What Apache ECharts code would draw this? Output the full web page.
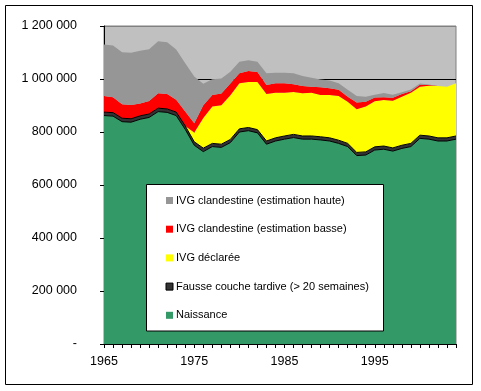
<!DOCTYPE html>
<html>
<head>
<meta charset="utf-8">
<script src="https://cdn.jsdelivr.net/npm/echarts@6/dist/echarts.min.js"></script>
<style>
html,body{margin:0;padding:0;background:#fff;}
#chart{width:481px;height:391px;}
</style>
</head>
<body>
<div id="chart"></div>
<script>
const years = [1965,1966,1967,1968,1969,1970,1971,1972,1973,1974,1975,1976,1977,1978,1979,1980,1981,1982,1983,1984,1985,1986,1987,1988,1989,1990,1991,1992,1993,1994,1995,1996,1997,1998,1999,2000,2001,2002,2003,2004];
const naissance = [862000,860000,839000,837000,848000,855000,877000,874000,862000,810000,750000,726000,745000,742000,760000,800000,805000,797000,754000,766000,773000,779000,773000,773000,770000,766000,757000,745000,711000,713000,732000,735000,728000,738000,745000,776000,773000,766000,766000,773000];
const fausseCouche = [13000,13000,13000,13000,13000,13000,13000,13000,13000,13000,13000,13000,12000,12000,12000,12000,12000,12000,12000,12000,12000,12000,12000,12000,12000,12000,12000,12000,12000,12000,12000,12000,12000,12000,12000,12000,12000,12000,12000,12000];
const ivgDeclaree = [0,0,0,0,0,0,0,0,0,0,35000,114000,139000,147000,167000,172000,172000,180000,177000,170000,163000,160000,161000,163000,158000,162000,167000,157000,163000,171000,172000,174000,178000,183000,191000,183000,190000,196000,193000,199000];
const ivgClandBasse = [61000,58000,53000,52000,47000,49000,56000,56000,47000,54000,35000,48000,44000,44000,44000,38000,41000,37000,34000,36000,36000,29000,28000,23000,29000,25000,23000,19000,25000,18000,14000,10000,11000,10000,6000,7000,2000,0,0,0];
const ivgClandHaute = [194000,195000,196000,197000,199000,195000,196000,196000,189000,182000,176000,81000,59000,57000,44000,43000,41000,39000,45000,40000,40000,42000,37000,34000,29000,29000,25000,26000,25000,19000,11000,16000,12000,7000,6000,5000,2000,0,0,0];
const yTicks = [0,200000,400000,600000,800000,1000000,1200000];
const xLabelYears = [1965,1975,1985,1995];

const FONT = "'Liberation Sans', Arial, sans-serif";
const fmt = v => v === 0 ? '-' : String(v).replace(/\B(?=(\d{3})+(?!\d))/g, ' ');

const chart = echarts.init(document.getElementById('chart'), null, {renderer:'canvas'});
const names = {
  n: 'Naissance',
  f: 'Fausse couche tardive (> 20 semaines)',
  d: 'IVG déclarée',
  b: 'IVG clandestine (estimation basse)',
  h: 'IVG clandestine (estimation haute)'
};
function area(name, data, color, line) {
  return {
    name, type:'line', stack:'total', data, symbol:'none', smooth:false,
    itemStyle:{color},
    areaStyle:{color, opacity:1},
    lineStyle: line ? {color:'#000', width:1} : {width:0, color},
    emphasis:{disabled:true}
  };
}
chart.setOption({
  animation:false,
  textStyle:{fontFamily:FONT},
  grid:{left:104, top:26, width:352, height:318, show:true, backgroundColor:'#C0C0C0', borderColor:'#808080', borderWidth:1, containLabel:false},
  xAxis:{
    type:'category', boundaryGap:false, data:years.map(String),
    axisLine:{lineStyle:{color:'#000', width:1}},
    axisTick:{show:true, interval:0, length:4, lineStyle:{color:'#000'}},
    axisLabel:{
      interval:(i, v) => xLabelYears.includes(Number(v)),
      hideOverlap:false, margin:11, color:'#000', fontSize:12.5, fontFamily:FONT
    },
    splitLine:{show:false}
  },
  yAxis:{
    type:'value', min:yTicks[0], max:yTicks[yTicks.length-1], interval:yTicks[1]-yTicks[0],
    axisLine:{show:true, lineStyle:{color:'#000', width:1}},
    axisTick:{show:true, length:4, lineStyle:{color:'#000'}},
    axisLabel:{formatter:fmt, margin:27, color:'#000', fontSize:12.5, fontFamily:FONT},
    splitLine:{show:true, lineStyle:{color:['#000','#000','#000','#000','#000','#000','#808080'], width:1}}
  },
  legend:{
    orient:'vertical', left:165.5, top:193.5, z:20, padding:0,
    itemWidth:7, itemHeight:7, itemGap:14.7, icon:'rect',
    selectedMode:false,
    itemStyle:{borderWidth:0},
    textStyle:{fontSize:11, color:'#000', fontFamily:FONT, lineHeight:14, padding:[0,0,0,-2]},
    data:[
      {name:names.h},
      {name:names.b},
      {name:names.d},
      {name:names.f, itemStyle:{borderColor:'#000', borderWidth:1}},
      {name:names.n}
    ]
  },
  graphic:[
    {type:'rect', z:100, silent:true, shape:{x:5.5, y:5.5, width:467, height:379}, style:{fill:'none', stroke:'#000', lineWidth:1}},
    {type:'rect', z:15, silent:true, shape:{x:146.5, y:184.5, width:237, height:146.5}, style:{fill:'#fff', stroke:'#000', lineWidth:1}}
  ],
  series:[
    area(names.n, naissance, '#339966', true),
    area(names.f, fausseCouche, '#333333', true),
    area(names.d, ivgDeclaree, '#FFFF00', false),
    area(names.b, ivgClandBasse, '#FF0000', false),
    area(names.h, ivgClandHaute, '#969696', false)
  ]
});
</script>
</body>
</html>
